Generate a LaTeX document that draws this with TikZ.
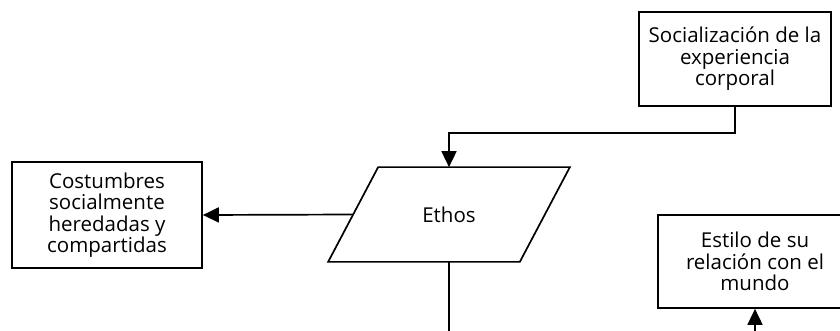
\documentclass[tikz,border=0pt]{standalone}
\usepackage{fontspec}
\setmainfont{Open Sans}
\usetikzlibrary{arrows.meta,calc}
\begin{document}
\begin{tikzpicture}[x=1pt,y=-1pt,
  box/.style={draw, line width=1.7pt, align=center, inner sep=0pt,
    font=\fontsize{20.5}{21.5}\selectfont},
  link/.style={line width=1.7pt, -{Triangle[width=15pt,length=16pt]}},
  plain/.style={line width=1.7pt},
]
\useasboundingbox (0,0) rectangle (840,331);
\coordinate (bottom) at (0,331);

% boxes
\node[box, minimum width=192pt, minimum height=94pt] (soc) at (735,59)
  {Socialización de la\\experiencia\\corporal};
\node[box, draw=none, minimum width=190pt, minimum height=93pt] (ethos) at (449,214.5) {Ethos};
\draw[plain] ($(ethos.north west)+(25,0)$) -- ($(ethos.north east)+(25,0)$)
  -- ($(ethos.south east)+(-25,0)$) -- ($(ethos.south west)+(-25,0)$) -- cycle;
\node[box, minimum width=190pt, minimum height=106pt] (cost) at (107,215)
  {Costumbres\\socialmente\\heredadas y\\compartidas};
\node[box, minimum width=194pt, minimum height=93pt] (estilo) at (755,261.5)
  {Estilo de su\\relación con el\\mundo};

% loose ends at the lower edge
\coordinate (ethosout) at (ethos.south |- bottom);
\coordinate (estiloin) at (estilo.south |- bottom);

% connectors
\draw[link] (soc.south) -- ++(0,26) -| (ethos.north);
\draw[link] (ethos.west) -- (cost.east);
\draw[plain] (ethos.south) -- (ethosout);
\draw[link] (estiloin) -- (estilo.south);
\end{tikzpicture}
\end{document}
